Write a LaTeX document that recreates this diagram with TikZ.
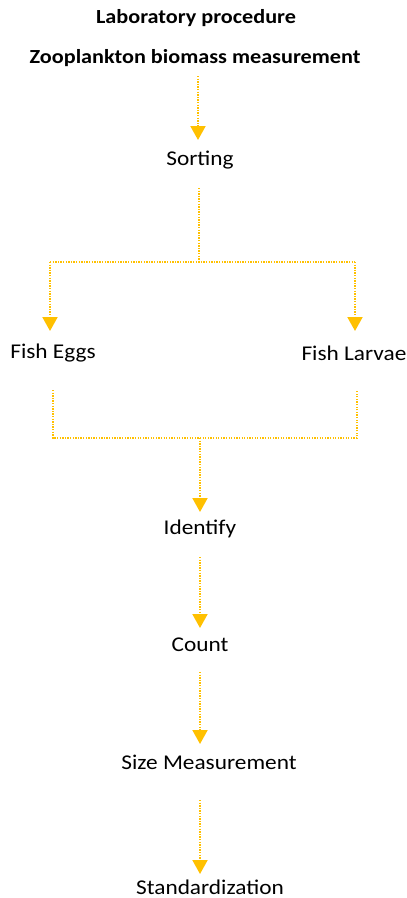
\documentclass[tikz,border=0pt]{standalone}
\usepackage{fontspec}
\setmainfont{Carlito}
\usetikzlibrary{arrows.meta}
\definecolor{gold}{HTML}{FFC000}
\newcommand{\wide}[1]{\scalebox{1.11}[1]{#1}}
\tikzset{
  lbl/.style={font=\fontsize{21}{24}\selectfont, inner sep=2pt, anchor=center},
  ttl/.style={font=\bfseries\fontsize{20}{24}\selectfont, inner sep=2pt, anchor=center},
  conn/.style={draw=gold, line width=2pt, dash pattern=on 1.3pt off 1.3pt},
  arr/.style={conn, -{Triangle[width=15pt,length=14pt,fill=gold,sep=0pt]}, shorten >=0pt},
}
\begin{document}
\begin{tikzpicture}[x=1pt,y=-1pt]
\useasboundingbox (0,0) rectangle (407,898);
\node[ttl] (t1) at (196,18) {\wide{Laboratory procedure}};
\node[ttl] (t2) at (195,58) {\wide{Zooplankton biomass measurement}};
\node[lbl] (sort) at (200,160) {\wide{Sorting}};
\node[lbl] (eggs) at (53,353) {\wide{Fish Eggs}};
\node[lbl] (larv) at (354,353) {\wide{Fish Larvae}};
\node[lbl] (iden) at (200,529) {\wide{Identify}};
\node[lbl] (count) at (200,645) {\wide{Count}};
\node[lbl] (size) at (209,762) {\wide{Size Measurement}};
\node[lbl] (std) at (210,887) {\wide{Standardization}};
\coordinate (a1s) at (198,76);
\coordinate (a1e) at (198,140);
\coordinate (b0) at (199,188);
\coordinate (b1) at (199,262);
\coordinate (bl) at (50,262);
\coordinate (br) at (355,262);
\coordinate (ble) at (50,331);
\coordinate (bre) at (355,331);
\coordinate (c1) at (53,390);
\coordinate (c2) at (357,390);
\coordinate (cl) at (53,438);
\coordinate (cr) at (357,438);
\coordinate (cm) at (200,438);
\coordinate (ce) at (200,512);
\coordinate (d1) at (200,557);
\coordinate (d2) at (200,628);
\coordinate (e1) at (200,672);
\coordinate (e2) at (200,744);
\coordinate (f1) at (200,800);
\coordinate (f2) at (200,874);
\draw[arr] (a1s) -- (a1e);
\draw[conn] (b0) -- (b1);
\draw[conn] (bl) -- (br);
\draw[arr] (bl) -- (ble);
\draw[arr] (br) -- (bre);
\draw[conn] (c1) -- (cl) -- (cr) -- (c2);
\draw[arr] (cm) -- (ce);
\draw[arr] (d1) -- (d2);
\draw[arr] (e1) -- (e2);
\draw[arr] (f1) -- (f2);
\end{tikzpicture}
\end{document}
